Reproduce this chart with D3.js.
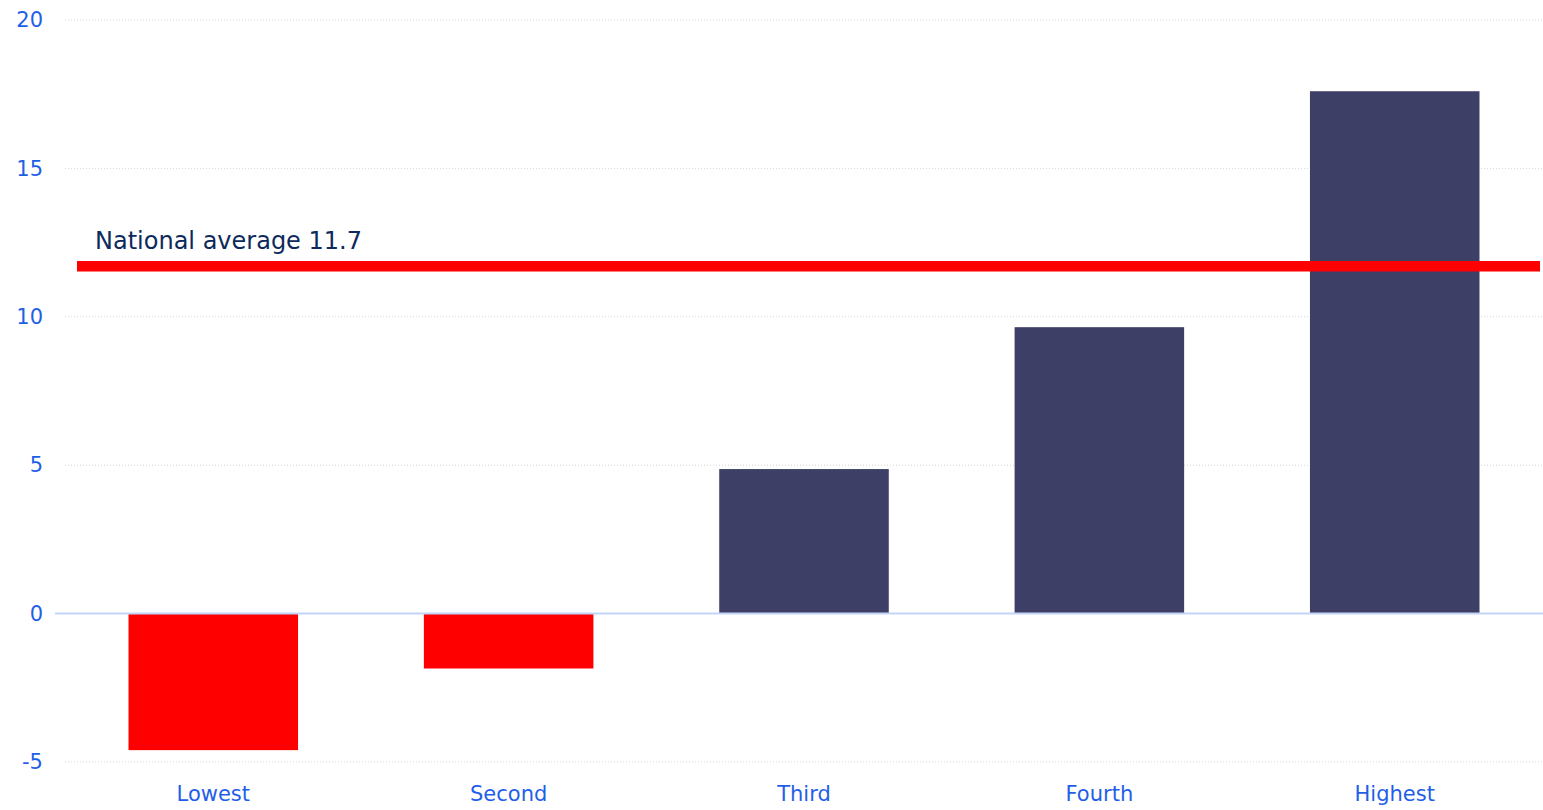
<!DOCTYPE html>
<html>
<head>
<meta charset="utf-8">
<script src="https://cdn.jsdelivr.net/npm/d3@7"></script>
<style>
  body { margin: 0; background: #fff; }
  .tick text { font-family: "DejaVu Sans", sans-serif; fill: #1f5fe8; }
</style>
</head>
<body>
<div class="chart"></div>
<script>
// chart values
var categories = ["Lowest", "Second", "Third", "Fourth", "Highest"];
var values = [-4.6, -1.85, 4.87, 9.65, 17.6];
var yTicks = [-5, 0, 5, 10, 15, 20];
var nationalAverage = 11.7;
var averageLabel = "National average 11.7";

var svgWidth = 1543;
var svgHeight = 810;

var margin = { top: 20, right: 0, bottom: 48, left: 65 };

var width = svgWidth - margin.left - margin.right;
var height = svgHeight - margin.top - margin.bottom;

var svg = d3.select(".chart")
  .append("svg")
  .attr("width", svgWidth)
  .attr("height", svgHeight);

var chartGroup = svg.append("g")
  .attr("transform", `translate(${margin.left}, ${margin.top})`);

var x = d3.scaleBand()
  .domain(categories)
  .range([0, width])
  .paddingInner(0.426)
  .paddingOuter(0.215);

var y = d3.scaleLinear()
  .domain([-5, 20])
  .range([height, 0]);

// dotted gridlines
chartGroup.append("g")
  .selectAll("line")
  .data(yTicks.filter(d => d !== 0))
  .enter()
  .append("line")
  .attr("x1", 0)
  .attr("x2", width)
  .attr("y1", d => y(d))
  .attr("y2", d => y(d))
  .attr("stroke", "#d6d6d6")
  .attr("stroke-width", 1)
  .attr("stroke-dasharray", "1,2");

// y axis labels (plain hyphen for negatives, like the original)
var leftAxis = d3.axisLeft(y)
  .tickValues(yTicks)
  .tickFormat(d => String(d))
  .tickSize(0)
  .tickPadding(22);

chartGroup.append("g")
  .call(leftAxis)
  .call(g => g.select(".domain").remove())
  .selectAll("text")
  .attr("font-size", "21px");

// bars
chartGroup.selectAll("rect.bar")
  .data(values)
  .enter()
  .append("rect")
  .attr("class", "bar")
  .attr("x", (d, i) => x(categories[i]))
  .attr("width", x.bandwidth())
  .attr("y", d => y(Math.max(0, d)))
  .attr("height", d => Math.abs(y(d) - y(0)))
  .attr("fill", d => d < 0 ? "#ff0000" : "#3d3f66");

// zero line
chartGroup.append("line")
  .attr("x1", -10)
  .attr("x2", width)
  .attr("y1", y(0))
  .attr("y2", y(0))
  .attr("stroke", "#c3d5f7")
  .attr("stroke-width", 2);

// x axis labels
var bottomAxis = d3.axisBottom(x)
  .tickSize(0)
  .tickPadding(24);

chartGroup.append("g")
  .attr("transform", `translate(0, ${height})`)
  .call(bottomAxis)
  .call(g => g.select(".domain").remove())
  .selectAll("text")
  .attr("font-size", "21px");

// national average line
chartGroup.append("line")
  .attr("x1", 12)
  .attr("x2", width - 3)
  .attr("y1", y(nationalAverage))
  .attr("y2", y(nationalAverage))
  .attr("stroke", "#ff0000")
  .attr("stroke-width", 10.5);

chartGroup.append("text")
  .attr("x", 30)
  .attr("y", y(nationalAverage) - 17)
  .attr("font-family", "DejaVu Sans, sans-serif")
  .attr("font-size", "24px")
  .attr("fill", "#0e2a5c")
  .text(averageLabel);
</script>
</body>
</html>
